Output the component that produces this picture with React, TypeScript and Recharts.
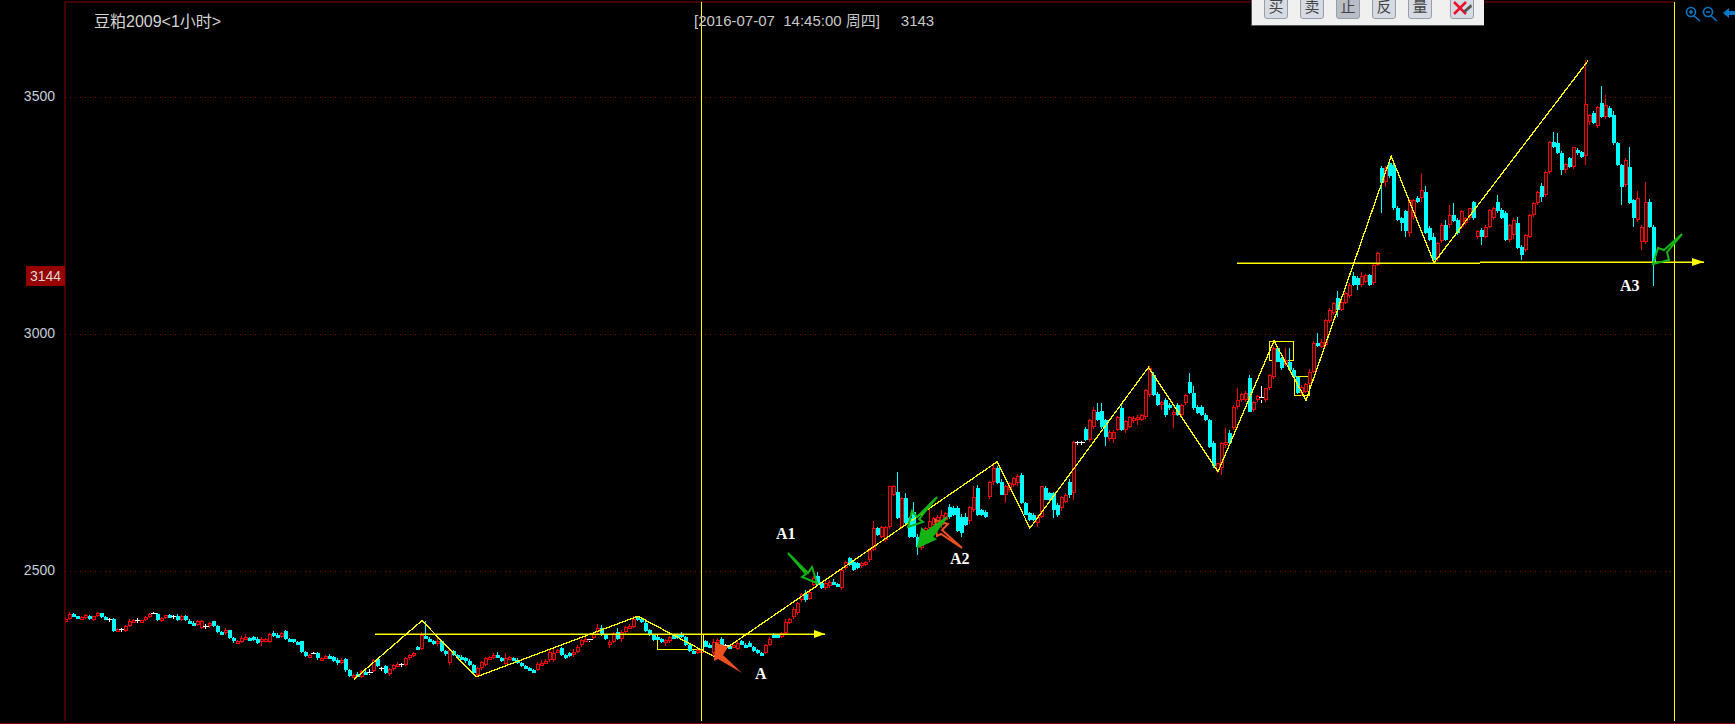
import { Bar, ComposedChart, Line, ReferenceArea, ReferenceLine, XAxis, YAxis } from "recharts";

type Ohlc = [number, number, number, number];

// every row is [open, high, low, close], one hourly bar
const slideCandles: Ohlc[] = [
  [2397,2403,2394,2400],[2400,2413,2398,2410],[2410,2411,2403,2405],[2405,2406,2400,2402],[2398,2405,2397,2403],
  [2403,2410,2400,2407],[2406,2408,2397,2399],[2398,2406,2396,2405],[2405,2413,2403,2411],[2411,2412,2402,2404],
  [2403,2405,2398,2399],[2400,2402,2397,2400],[2400,2401,2371,2373],[2373,2381,2372,2379],[2379,2380,2378,2379],
  [2373,2386,2372,2385],[2385,2400,2382,2396],[2396,2399,2393,2397],[2397,2401,2394,2397],[2396,2398,2395,2397],
  [2398,2405,2396,2403],[2403,2412,2401,2410],[2411,2414,2406,2411],[2410,2412,2394,2397],[2397,2404,2393,2401],
  [2401,2408,2399,2407],[2408,2410,2402,2403],[2405,2408,2403,2405],[2406,2409,2395,2398],[2398,2408,2395,2405],
  [2406,2408,2396,2398],[2396,2399,2389,2391],[2391,2394,2385,2387],[2386,2397,2384,2395],[2380,2398,2378,2396],
  [2385,2388,2383,2385],[2384,2392,2380,2390],[2394,2396,2382,2384],[2384,2386,2370,2372],[2372,2374,2366,2368],
  [2370,2380,2366,2377],[2375,2376,2358,2360],[2360,2362,2349,2352],[2351,2355,2349,2352],[2350,2363,2348,2360],
  [2358,2368,2354,2362],[2360,2362,2354,2356],[2362,2363,2352,2356],[2356,2361,2346,2349],[2350,2362,2342,2358],
  [2352,2360,2350,2357],[2350,2370,2348,2368],[2370,2374,2362,2365],[2366,2370,2360,2364],[2362,2371,2360,2369],
  [2373,2375,2355,2358],[2358,2360,2353,2356],[2356,2358,2349,2351],[2351,2353,2346,2349],[2352,2353,2328,2330],
  [2330,2332,2320,2322],[2322,2325,2319,2323],[2327,2330,2322,2327],[2328,2330,2312,2316],[2316,2320,2314,2317],
  [2316,2323,2314,2321],[2321,2326,2316,2318],[2318,2322,2308,2311],[2312,2316,2303,2306],[2306,2316,2304,2312],
  [2314,2316,2288,2291],[2291,2293,2276,2279],[2279,2284,2277,2281],[2283,2287,2276,2279],[2277,2291,2275,2289],
  [2288,2294,2282,2285],[2287,2293,2284,2287],[2290,2315,2288,2312],[2314,2317,2297,2300],[2295,2298,2293,2295],
  [2300,2303,2283,2285],[2284,2296,2278,2293],[2293,2304,2290,2302],[2302,2308,2298,2305],[2305,2307,2302,2305],
  [2303,2318,2301,2316],[2316,2325,2312,2323],[2322,2330,2318,2328],[2340,2342,2333,2335],[2335,2372,2333,2365],
  [2364,2396,2356,2358],[2358,2362,2350,2352],[2352,2354,2344,2346],[2348,2360,2342,2352],[2352,2354,2330,2332],
  [2332,2334,2322,2325],
];

const baseCandles: Ohlc[] = [
  [2306,2338,2302,2334],[2331,2333,2322,2323],[2323,2326,2318,2320],[2320,2323,2315,2317],[2317,2320,2307,2310],
  [2310,2314,2301,2303],[2303,2305,2283,2285],[2282,2297,2278,2295],[2295,2310,2292,2308],[2302,2318,2300,2316],
  [2316,2322,2312,2319],[2318,2328,2315,2324],[2324,2330,2316,2317],[2317,2320,2308,2310],[2304,2328,2302,2316],
  [2316,2321,2312,2318],[2317,2320,2310,2313],[2313,2316,2304,2306],[2306,2309,2298,2300],[2300,2302,2294,2296],
  [2296,2298,2290,2292],[2292,2294,2288,2290],[2291,2308,2289,2305],[2305,2312,2302,2307],[2306,2314,2304,2311],
  [2312,2334,2309,2330],[2312,2335,2308,2328],[2330,2336,2328,2334],[2337,2340,2322,2324],[2324,2326,2315,2317],
  [2327,2330,2318,2323],[2323,2335,2320,2330],[2330,2345,2328,2341],[2344,2356,2340,2354],[2354,2362,2350,2358],
  [2356,2358,2352,2356],[2360,2370,2356,2368],[2372,2388,2368,2380],[2380,2386,2364,2366],[2366,2368,2355,2357],
  [2344,2354,2338,2351],[2351,2372,2348,2369],[2372,2380,2354,2358],[2358,2376,2350,2372],[2372,2384,2370,2383],
  [2380,2388,2378,2384],[2383,2405,2380,2400],[2404,2406,2396,2397],[2400,2404,2390,2392],[2390,2394,2372,2374],
  [2376,2378,2364,2366],[2366,2368,2352,2355],[2362,2364,2356,2358],[2358,2360,2348,2351],[2348,2356,2342,2355],
  [2352,2364,2348,2362],[2365,2368,2356,2358],[2365,2368,2358,2362],[2368,2372,2359,2361],[2362,2364,2343,2345],
  [2345,2347,2329,2331],[2331,2333,2325,2327],[2327,2338,2325,2334],[2331,2337,2329,2334],[2352,2355,2340,2341],
  [2345,2349,2339,2340],[2327,2358,2320,2351],[2348,2360,2345,2355],[2358,2362,2343,2345],[2345,2347,2341,2345],
  [2342,2345,2336,2338],[2341,2344,2338,2344],[2335,2352,2333,2348],[2352,2354,2344,2345],[2345,2348,2340,2341],
  [2349,2352,2340,2341],[2341,2343,2330,2331],[2333,2335,2326,2327],[2327,2329,2323,2324],[2327,2347,2325,2345],
  [2345,2362,2342,2358],[2366,2370,2360,2362],[2366,2368,2362,2365],[2362,2372,2360,2369],[2369,2400,2366,2393],
  [2390,2402,2388,2400],[2404,2424,2400,2421],[2411,2436,2408,2432],[2439,2455,2436,2453],[2453,2460,2436,2439],
  [2442,2462,2440,2457],
];

const climbCandles: Ohlc[] = [
  [2471,2490,2468,2485],[2489,2498,2470,2471],[2475,2477,2463,2464],[2464,2480,2460,2475],[2468,2482,2464,2478],
  [2478,2484,2472,2475],[2473,2476,2468,2470],[2464,2506,2460,2503],[2506,2522,2503,2520],[2527,2530,2511,2513],
  [2520,2524,2500,2503],[2517,2520,2504,2506],[2510,2519,2506,2517],[2513,2522,2511,2520],[2524,2548,2520,2545],
  [2545,2605,2542,2591],[2591,2594,2575,2577],[2573,2596,2570,2594],[2566,2596,2561,2594],[2594,2680,2590,2679],
  [2661,2681,2658,2679],[2668,2710,2610,2612],[2594,2657,2590,2654],[2654,2665,2600,2601],[2612,2615,2570,2573],
  [2626,2647,2570,2573],[2573,2578,2534,2552],[2552,2558,2545,2556],[2584,2593,2578,2591],[2591,2633,2586,2605],
  [2598,2615,2592,2612],[2598,2618,2594,2615],[2598,2630,2592,2619],[2608,2625,2605,2622],[2636,2642,2610,2615],
  [2633,2637,2616,2619],[2633,2637,2582,2584],[2615,2620,2572,2580],[2615,2622,2596,2598],[2605,2638,2600,2636],
  [2629,2680,2625,2657],[2675,2682,2617,2619],[2629,2632,2617,2619],[2626,2630,2612,2614],[2657,2690,2653,2689],
  [2689,2725,2682,2717],[2717,2722,2684,2686],[2689,2695,2660,2661],[2661,2682,2643,2679],[2672,2688,2668,2686],
  [2682,2698,2678,2696],[2686,2706,2680,2700],[2703,2707,2642,2643],[2643,2646,2618,2619],[2622,2625,2606,2608],
  [2619,2622,2606,2608],[2601,2618,2594,2615],[2615,2680,2612,2679],[2675,2680,2650,2651],[2664,2668,2648,2650],
  [2664,2668,2612,2629],[2640,2644,2615,2619],[2633,2659,2628,2657],[2647,2664,2643,2661],[2689,2695,2655,2661],
  [2664,2775,2650,2773],
];

const stairCandles: Ohlc[] = [
  [2773,2775,2771,2773],[2773,2775,2771,2773],[2801,2804,2775,2777],[2777,2822,2772,2819],[2805,2846,2800,2840],
  [2837,2854,2817,2819],[2839,2854,2800,2805],[2819,2822,2764,2784],[2780,2797,2775,2794],[2780,2797,2770,2794],
  [2798,2828,2795,2826],[2844,2850,2795,2798],[2798,2820,2792,2816],[2805,2828,2802,2826],[2816,2828,2812,2823],
  [2819,2830,2808,2826],[2819,2832,2816,2830],[2826,2885,2822,2882],[2872,2932,2868,2928],[2914,2920,2870,2872],
  [2874,2878,2849,2851],[2851,2860,2840,2858],[2861,2865,2825,2830],[2851,2854,2840,2844],[2830,2840,2802,2837],
  [2851,2855,2828,2830],[2830,2853,2826,2851],[2854,2873,2850,2872],[2900,2918,2873,2875],[2875,2890,2840,2844],
  [2847,2850,2832,2833],[2847,2850,2828,2830],[2830,2834,2816,2819],[2819,2822,2760,2763],[2770,2774,2718,2721],
  [2714,2728,2708,2728],[2717,2772,2703,2770],[2768,2802,2760,2773],[2791,2797,2770,2771],[2802,2850,2798,2847],
  [2847,2886,2842,2861],[2861,2876,2858,2874],[2861,2880,2858,2877],[2907,2914,2835,2837],[2840,2860,2836,2858],
  [2861,2872,2858,2870],[2868,2890,2855,2868],[2861,2886,2858,2886],[2886,2916,2882,2914],[2910,2975,2906,2970],
  [2970,2975,2942,2942],[2949,2952,2925,2928],[2935,2970,2932,2946],[2942,2970,2924,2925],[2925,2928,2909,2910],
  [2910,2912,2873,2875],[2875,2892,2870,2889],[2879,2898,2875,2896],[2896,2926,2892,2921],[2921,2985,2918,2981],
  [2981,3002,2973,2975],[2974,2990,2970,2984],[2977,3032,2974,3030],
];

const rallyCandles: Ohlc[] = [
  [3027,3055,3024,3051],[3044,3068,3041,3066],[3076,3092,3037,3051],[3051,3072,3048,3069],[3066,3090,3063,3087],
  [3080,3108,3077,3104],[3122,3132,3102,3104],[3118,3122,3094,3104],[3104,3132,3100,3122],[3111,3128,3108,3125],
  [3125,3128,3102,3104],[3108,3148,3104,3146],[3146,3174,3143,3171],[3350,3354,3255,3319],[3322,3354,3310,3350],
  [3361,3368,3330,3333],[3357,3362,3262,3266],[3266,3270,3238,3241],[3245,3248,3217,3234],[3259,3263,3205,3217],
  [3213,3285,3205,3283],[3248,3285,3240,3283],[3287,3292,3276,3280],[3287,3340,3280,3304],[3301,3312,3212,3213],
  [3224,3228,3196,3199],[3206,3214,3155,3157],[3160,3194,3155,3192],[3196,3235,3192,3231],[3231,3240,3196,3199],
  [3231,3273,3225,3252],[3252,3276,3236,3238],[3241,3245,3210,3213],[3227,3262,3222,3259],[3234,3248,3230,3245],
  [3245,3266,3240,3266],[3280,3282,3240,3245],[3206,3220,3200,3217],[3220,3224,3188,3206],[3206,3230,3203,3227],
  [3227,3265,3224,3262],[3245,3268,3242,3266],[3280,3294,3255,3259],[3262,3266,3243,3245],[3255,3259,3196,3199],
  [3199,3232,3195,3231],[3210,3245,3200,3241],[3234,3248,3180,3182],[3185,3188,3157,3167],[3178,3212,3174,3210],
  [3206,3254,3203,3252],[3252,3279,3248,3276],[3276,3302,3272,3301],[3312,3320,3280,3290],[3294,3345,3290,3343],
  [3343,3407,3338,3406],[3406,3427,3393,3396],[3403,3424,3380,3382],[3382,3386,3336,3346],[3346,3362,3340,3360],
  [3371,3375,3350,3353],[3353,3396,3348,3396],[3389,3392,3378,3382],[3385,3387,3372,3375],[3376,3578,3357,3486],
  [3448,3464,3442,3462],[3466,3470,3443,3445],[3439,3482,3436,3480],[3487,3524,3456,3459],[3459,3505,3455,3484],
  [3477,3482,3456,3459],[3462,3470,3400,3403],[3403,3406,3356,3357],[3357,3360,3273,3311],[3315,3372,3310,3368],
  [3353,3396,3274,3276],[3283,3286,3227,3245],[3241,3302,3237,3287],[3195,3230,3178,3227],[3195,3322,3190,3280],
  [3280,3285,3225,3227],[3227,3231,3102,3150],
];

// yellow zigzag drawn by hand on the chart, bar position and price of each pivot
const pivotIndex = [72, 89, 102.5, 143, 162, 232.8, 241, 270.6, 288, 302, 310, 331.3, 342, 380.5];
const pivotPrice = [2272, 2396, 2277, 2405, 2320, 2731, 2591, 2930, 2710, 2986, 2861, 3376, 3151, 3577];

const yTicks = [2500, 3000, 3500];
const cursorIndexes = [158.9, 402];

const COLORS = {
  up: "#ff0000",
  down: "#00ffff",
  flat: "#ffffff",
  draw: "#ffff00",
  frame: "#8a0000",
  label: "#c6ced6",
  green: "#14b414",
  orange: "#f0501e",
};

const allCandles = [...slideCandles, ...baseCandles, ...climbCandles, ...stairCandles, ...rallyCandles];

const data = allCandles.map(([open, high, low, close], index) => ({
  index,
  open,
  high,
  low,
  close,
  range: [low, high],
}));

const pivots = pivotIndex.map((index, i) => ({ index, pivot: pivotPrice[i] }));

function Candle(props: any) {
  const { x, y, width, height, payload } = props;
  const { open, high, low, close } = payload;
  const perUnit = height / (high - low);
  const py = (v: number) => Math.round(y + (high - v) * perUnit);
  const left = Math.round(x + width / 2 - 2);
  const mid = left + 1.5;
  const top = py(Math.max(open, close));
  const bottom = Math.max(py(Math.min(open, close)), top + 3);
  const wick = close > open ? COLORS.up : close < open ? COLORS.down : COLORS.flat;

  return (
    <g shapeRendering="crispEdges">
      <line x1={mid} x2={mid} y1={py(high)} y2={top} stroke={wick} />
      <line x1={mid} x2={mid} y1={bottom} y2={py(low)} stroke={wick} />
      {close > open && (
        <rect x={left + 0.5} y={top + 0.5} width={3} height={bottom - top - 1} fill="#000" stroke={COLORS.up} />
      )}
      {close < open && <rect x={left} y={top} width={4} height={bottom - top} fill={COLORS.down} />}
      {close === open && <line x1={left - 1} x2={left + 5} y1={top + 0.5} y2={top + 0.5} stroke={COLORS.flat} />}
    </g>
  );
}

function Toolbar() {
  const buttons = [
    { label: "买", left: 12, shade: "#d6dae2" },
    { label: "卖", left: 48, shade: "#d6dae2" },
    { label: "止", left: 84, shade: "#b9bdc6" },
    { label: "反", left: 120, shade: "#d6dae2" },
    { label: "量", left: 156, shade: "#d6dae2" },
    { label: "", left: 198, shade: "#d6dae2" },
  ];
  return (
    <div
      style={{
        position: "absolute",
        left: 1251,
        top: 0,
        width: 232,
        height: 25,
        background: "#f0f0f0",
        borderBottom: "1px solid #555",
        borderLeft: "1px solid #555",
        overflow: "hidden",
      }}
    >
      {buttons.map((b) => (
        <div
          key={b.left}
          style={{
            position: "absolute",
            left: b.left,
            top: -8,
            width: 22,
            height: 25,
            background: b.shade,
            border: "1px solid #9a9da4",
            borderRadius: 3,
            color: "#444",
            fontFamily: "'Noto Sans CJK SC'",
            fontSize: 15,
            lineHeight: "26px",
            textAlign: "center",
          }}
        >
          {b.label}
        </div>
      ))}
      <svg width={232} height={25} style={{ position: "absolute", left: 0, top: 0 }}>
        <path d="M202 2 L214 14 M214 2 L202 14" stroke="#e8102c" strokeWidth={2.5} />
        <path d="M211 11 L219 4 L220 7 L213 13 Z" fill="#555" />
      </svg>
    </div>
  );
}

function Overlay() {
  const blue = "#0a78c8";
  return (
    <svg width={1735} height={724} style={{ position: "absolute", left: 0, top: 0, pointerEvents: "none" }}>
      {/* arrow heads on the horizontal lines */}
      <polygon points="814,630 825,634 814,638" fill={COLORS.draw} />
      <polygon points="1692,258 1704,262 1692,266" fill={COLORS.draw} />
      {/* hand drawn arrows */}
      <polygon points="715,642 728,647 723,655 742,673 718,659 714,661" fill={COLORS.orange} />
      <polygon points="788,553 808,573 812,567 817,583 802,577 806,574" fill="none" stroke={COLORS.green} strokeWidth={2} />
      <polygon points="937,497 917,517 912,511 908,527 923,522 919,519" fill="none" stroke={COLORS.green} strokeWidth={2} />
      <polygon points="935,520 948,524 942,530 962,548 941,534 937,536" fill="none" stroke={COLORS.orange} strokeWidth={2} />
      <polygon points="947,517 932,537 935,539 918,547 922,529 926,532" fill={COLORS.green} stroke={COLORS.green} strokeWidth={2} />
      <polygon points="1682,234 1667,252 1669,260 1653,264 1658,248 1664,250" fill="none" stroke={COLORS.green} strokeWidth={2} />
      {/* zoom icons, top right */}
      <g fill="none" stroke={blue} strokeWidth={1.6}>
        <circle cx={1691} cy={12} r={4.5} />
        <path d="M1694 16 L1700 21 M1689 12 H1693 M1691 10 V14" />
        <circle cx={1708} cy={12} r={4.5} />
        <path d="M1711 16 L1717 21 M1706 12 H1710" />
      </g>
      <polygon points="1723,13 1729,8 1729,11 1735,11 1735,15 1729,15 1729,18" fill={blue} />
    </svg>
  );
}

const textBase = { position: "absolute", whiteSpace: "pre" } as const;
const markStyle = {
  ...textBase,
  color: "#fff",
  fontFamily: "'Liberation Serif'",
  fontWeight: 700,
  fontSize: 16,
  lineHeight: "16px",
};

export default function App() {
  return (
    <div style={{ position: "absolute", left: 0, top: 0, width: 1735, height: 724, background: "#000", overflow: "hidden" }}>
      <ComposedChart
        width={1735}
        height={724}
        data={data}
        margin={{ top: 2, right: 0, bottom: 3, left: 0 }}
        style={{ position: "absolute", left: 0, top: 0 }}
      >
        <XAxis
          type="number"
          dataKey="index"
          domain={[-0.25, 417.25]}
          allowDataOverflow
          height={0}
          tick={false}
          tickLine={false}
          axisLine={{ stroke: COLORS.frame }}
        />
        <YAxis
          type="number"
          width={65}
          domain={[2184, 3701]}
          ticks={yTicks}
          interval={0}
          tickLine={false}
          tickMargin={4}
          axisLine={{ stroke: COLORS.frame }}
          tick={{ fill: COLORS.label, fontSize: 14, fontFamily: "'Liberation Sans'", dy: -1 }}
        />
        <ReferenceLine
          segment={[
            { x: -0.25, y: 3701 },
            { x: 402, y: 3701 },
          ]}
          stroke={COLORS.frame}
        />
        {yTicks.map((t) => (
          <ReferenceLine
            key={t}
            segment={[
              { x: -0.25, y: t },
              { x: 402, y: t },
            ]}
            stroke={COLORS.frame}
            strokeDasharray="1 4"
            shapeRendering="crispEdges"
          />
        ))}
        <Bar dataKey="range" barSize={3} shape={Candle} isAnimationActive={false} />
        <Line
          data={pivots}
          dataKey="pivot"
          type="linear"
          stroke={COLORS.draw}
          strokeWidth={1.3}
          shapeRendering="crispEdges"
          dot={false}
          activeDot={false}
          legendType="none"
          isAnimationActive={false}
        />
        {cursorIndexes.map((c) => (
          <ReferenceLine key={c} x={c} stroke={COLORS.draw} shapeRendering="crispEdges" />
        ))}
        <ReferenceLine
          segment={[
            { x: 77.25, y: 2367 },
            { x: 189.75, y: 2367 },
          ]}
          stroke={COLORS.draw}
          strokeWidth={1.5}
        />
        <ReferenceLine
          segment={[
            { x: 292.75, y: 3150 },
            { x: 353.5, y: 3150 },
          ]}
          stroke={COLORS.draw}
          strokeWidth={1.5}
        />
        <ReferenceLine
          segment={[
            { x: 353.5, y: 3152 },
            { x: 409.5, y: 3152 },
          ]}
          stroke={COLORS.draw}
          strokeWidth={1.5}
        />
        <ReferenceArea x1={147.75} x2={159.25} y1={2334} y2={2366} fill="none" stroke={COLORS.draw} shapeRendering="crispEdges" />
        <ReferenceArea x1={300.75} x2={306.75} y1={2944} y2={2984} fill="none" stroke={COLORS.draw} shapeRendering="crispEdges" />
        <ReferenceArea x1={307} x2={310.75} y1={2870} y2={2910} fill="none" stroke={COLORS.draw} shapeRendering="crispEdges" />
      </ComposedChart>

      <div style={{ position: "absolute", left: 0, top: 723, width: 1735, height: 1, background: COLORS.frame }} />

      <Overlay />
      <Toolbar />

      <div
        style={{
          ...textBase,
          left: 94,
          top: 12,
          color: "#d4d4d4",
          fontSize: 16,
          lineHeight: "20px",
          fontFamily: "'Liberation Sans','Noto Sans CJK SC'",
        }}
      >
        豆粕2009&lt;1小时&gt;
      </div>
      <div
        style={{
          ...textBase,
          left: 694,
          top: 12,
          color: "#c8c8c8",
          fontSize: 15,
          lineHeight: "18px",
          fontFamily: "'Liberation Sans','Noto Sans CJK SC'",
        }}
      >
        {"[2016-07-07  14:45:00 周四]     3143"}
      </div>
      <div
        style={{
          ...textBase,
          left: 26,
          top: 266,
          width: 39,
          height: 20,
          background: "#960000",
          color: "#d8d8d8",
          fontSize: 14,
          lineHeight: "20px",
          textAlign: "center",
          fontFamily: "'Liberation Sans'",
        }}
      >
        3144
      </div>

      <div style={{ ...markStyle, left: 755, top: 666 }}>A</div>
      <div style={{ ...markStyle, left: 776, top: 526 }}>A1</div>
      <div style={{ ...markStyle, left: 950, top: 551 }}>A2</div>
      <div style={{ ...markStyle, left: 1620, top: 278 }}>A3</div>
    </div>
  );
}
